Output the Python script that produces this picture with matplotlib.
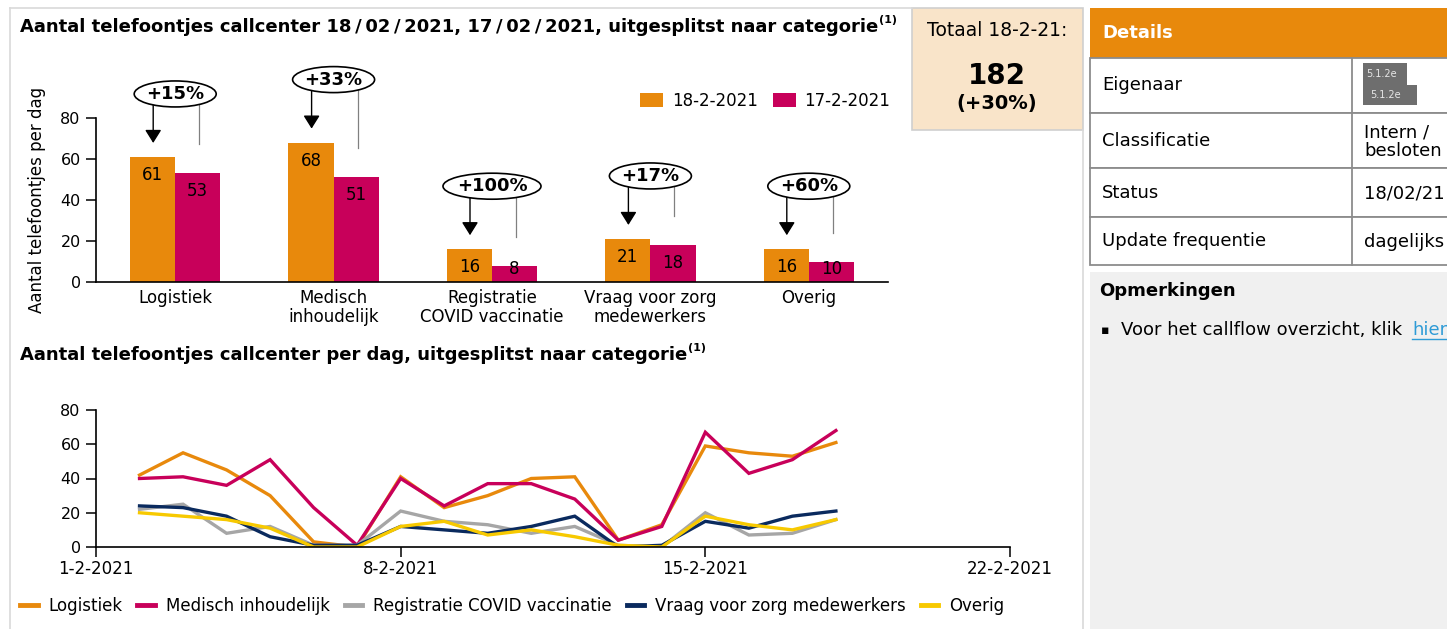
import matplotlib
matplotlib.use("Agg")
import matplotlib.pyplot as plt
from matplotlib.patches import Ellipse, Rectangle
from matplotlib.lines import Line2D
import numpy as np

plt.rcParams["font.family"] = ["DejaVu Sans"]

# ── data ────────────────────────────────────────────────────────────────────
categories = ["Logistiek", "Medisch\ninhoudelijk", "Registratie\nCOVID vaccinatie",
              "Vraag voor zorg\nmedewerkers", "Overig"]
today_label = "18-2-2021"
yesterday_label = "17-2-2021"
calls_today = [61, 68, 16, 21, 16]
calls_yesterday = [53, 51, 8, 18, 10]

days = np.arange("2021-02-02", "2021-02-19", dtype="datetime64[D]")
series_names = ["Logistiek", "Medisch inhoudelijk", "Registratie COVID vaccinatie",
                "Vraag voor zorg medewerkers", "Overig"]
logistiek = [42, 55, 45, 30, 3, 0, 41, 23, 30, 40, 41, 4, 13, 59, 55, 53, 61]
medisch = [40, 41, 36, 51, 23, 1, 40, 24, 37, 37, 28, 4, 12, 67, 43, 51, 68]
registratie = [22, 25, 8, 12, 1, 1, 21, 15, 13, 8, 12, 1, 0, 20, 7, 8, 16]
vraag = [24, 23, 18, 6, 1, 1, 12, 10, 8, 12, 18, 0, 1, 15, 11, 18, 21]
overig = [20, 18, 16, 11, 0, 0, 12, 15, 7, 10, 6, 1, 0, 18, 13, 10, 16]
date_ticks = np.array(["2021-02-01", "2021-02-08", "2021-02-15", "2021-02-22"],
                      dtype="datetime64[D]")

details_rows = ["Eigenaar", "Classificatie", "Status", "Update frequentie"]
details_vals = ["", "Intern /\nbesloten", "18/02/21", "dagelijks"]

ORANGE = "#E8890C"
MAGENTA = "#C8005A"
GRAY = "#A6A6A6"
NAVY = "#0A2A5E"
YELLOW = "#F7C900"
line_colors = [ORANGE, MAGENTA, GRAY, NAVY, YELLOW]

FS = 12        # chart text
FS_PANEL = 13  # right-hand panel text

W, H = 1447, 629
fig = plt.figure(figsize=(W / 100, H / 100), dpi=100)


def px_axes(x0, y0, x1, y1, **kw):
    return fig.add_axes([x0 / W, 1 - y1 / H, (x1 - x0) / W, (y1 - y0) / H], **kw)


# ── background / panels ─────────────────────────────────────────────────────
bg = px_axes(0, 0, W, H)
bg.set_xlim(0, W)
bg.set_ylim(H, 0)
bg.axis("off")
bg.plot([10, 912], [8, 8], color="#D9D9D9", lw=1.2)
bg.plot([10, 10], [8, H], color="#D9D9D9", lw=1.2)
bg.plot([1083, 1083], [130, H], color="#D9D9D9", lw=1.2)

# Totaal box
bg.add_patch(Rectangle((912, 8), 171, 122, fc="#F9E4C9", ec="#CFCFCF", lw=1.2))
tot = sum(calls_today)
tot_prev = sum(calls_yesterday)
bg.text(997, 30, "Totaal 18-2-21:", fontsize=13.5, ha="center", va="center")
bg.text(997, 76, f"{tot}", fontsize=20, fontweight="bold", ha="center", va="center")
bg.text(997, 103, f"(+{(tot - tot_prev) / tot_prev * 100:.0f}%)", fontsize=14,
        fontweight="bold", ha="center", va="center")

# Details table
bg.add_patch(Rectangle((1090, 8), 360, 50, fc=ORANGE, ec="none"))
bg.text(1102, 33, "Details", fontsize=FS_PANEL, fontweight="bold", color="white", va="center")
row_edges = [58, 113, 168, 217, 265]
for i, (lab, val) in enumerate(zip(details_rows, details_vals)):
    y0, y1 = row_edges[i], row_edges[i + 1]
    bg.add_patch(Rectangle((1090, y0), 360, y1 - y0, fc="white", ec="#8C8C8C", lw=1.3))
    bg.text(1102, (y0 + y1) / 2, lab, fontsize=FS_PANEL, va="center")
    bg.text(1364, (y0 + y1) / 2 + 1, val, fontsize=FS_PANEL, va="center", linespacing=1.0)
bg.plot([1352, 1352], [58, 265], color="#8C8C8C", lw=1.3)
# redacted owner boxes
bg.add_patch(Rectangle((1363, 63), 44, 22, fc="#6E6E6E", ec="none"))
bg.add_patch(Rectangle((1363, 85), 54, 20, fc="#6E6E6E", ec="none"))
bg.text(1366, 74, "5.1.2e", fontsize=7, color="#E6E6E6", va="center")
bg.text(1370, 95, "5.1.2e", fontsize=7, color="#E6E6E6", va="center")

# Opmerkingen
bg.add_patch(Rectangle((1090, 272), 360, H - 272, fc="#F0F0F0", ec="none"))
bg.text(1099, 291, "Opmerkingen", fontsize=FS_PANEL, fontweight="bold", va="center")
bg.text(1101, 330, "\u25aa", fontsize=9, va="center")
t_rem = bg.text(1121, 330, "Voor het callflow overzicht, klik ", fontsize=FS_PANEL, va="center")
renderer = fig.canvas.get_renderer()
bb = t_rem.get_window_extent(renderer=renderer)
bg.text(bb.x1 + 4, 330, "hier", fontsize=FS_PANEL, va="center", color="#2E9BD6")
bg.plot([bb.x1 + 4, bb.x1 + 54], [339, 339], color="#2E9BD6", lw=1)


# titles with superscript
def title_with_sup(x, y, text):
    t = bg.text(x, y, text, fontsize=13, fontweight="bold", va="center")
    e = t.get_window_extent(renderer=renderer)
    bg.text(e.x1 + 1, y - 7, "(1)", fontsize=8, fontweight="bold", va="center")


title_with_sup(20, 27, "Aantal telefoontjes callcenter 18\u2009/\u200902\u2009/\u20092021, "
                       "17\u2009/\u200902\u2009/\u20092021, uitgesplitst naar categorie")
title_with_sup(20, 355, "Aantal telefoontjes callcenter per dag, uitgesplitst naar categorie")

# ── bar chart ───────────────────────────────────────────────────────────────
ax = px_axes(96, 118, 888, 282)
x = np.arange(len(categories))
bw = 0.285
b1 = ax.bar(x - bw / 2, calls_today, bw, color=ORANGE, label=today_label)
b2 = ax.bar(x + bw / 2, calls_yesterday, bw, color=MAGENTA, label=yesterday_label)
ax.set_xlim(-0.5, 4.5)
ax.set_ylim(0, 80)
ax.set_yticks([0, 20, 40, 60, 80])
ax.set_xticks(x)
ax.set_xticklabels(categories, fontsize=FS, linespacing=1.05)
ax.tick_params(axis="x", length=0, pad=5)
ax.tick_params(axis="y", length=7, width=1.1, labelsize=11.5, pad=4)
for s in ["top", "right"]:
    ax.spines[s].set_visible(False)
for s in ["left", "bottom"]:
    ax.spines[s].set_linewidth(1.2)
ax.set_ylabel("Aantal telefoontjes per dag", fontsize=FS, labelpad=10)

ppu = 164 / 80          # pixels per data unit (y)
ppx = 792 / 5           # pixels per category
for i, (a, b) in enumerate(zip(calls_today, calls_yesterday)):
    ax.text(i - bw / 2, max(a - 18 / ppu, 6.3), f"{a}", ha="center", va="center", fontsize=FS)
    ax.text(i + bw / 2, max(b - 18 / ppu, 6.3), f"{b}", ha="center", va="center", fontsize=FS)
    pct = f"+{(a - b) / b * 100:.0f}%"
    yc = max(a, b) + 63 / ppu
    ew = (18 + 16 * len(pct)) / ppx
    eh = 26 / ppu
    ax.add_patch(Ellipse((i, yc), ew, eh, fc="white", ec="black", lw=1.2, clip_on=False, zorder=5))
    ax.text(i, yc, pct, ha="center", va="center", fontsize=13, fontweight="bold", zorder=6)
    # arrow to today's bar
    xa = i - 22 / ppx
    ya = yc - eh / 2 * np.sqrt(1 - (xa - i) ** 2 / (ew / 2) ** 2)
    ax.annotate("", xy=(xa, a + 14 / ppu), xytext=(xa, ya),
                arrowprops=dict(arrowstyle="-|>,head_length=0.8,head_width=0.5",
                                mutation_scale=10, color="black", lw=1, shrinkA=0, shrinkB=0),
                annotation_clip=False)
    # thin line to yesterday's bar
    xb = i + 24 / ppx
    yb = yc - eh / 2 * np.sqrt(1 - (xb - i) ** 2 / (ew / 2) ** 2)
    ax.plot([xb, xb], [yb, b + 29 / ppu], color="#808080", lw=0.9, clip_on=False)

ax.legend(handles=[b1, b2], loc="center left", bbox_to_anchor=(640 / W, 1 - 101 / H),
          bbox_transform=fig.transFigure, ncol=2, frameon=False, fontsize=FS,
          handlelength=1.4, handleheight=0.9, handletextpad=0.5, columnspacing=0.9,
          borderpad=0, borderaxespad=0)

# ── line chart ──────────────────────────────────────────────────────────────
lx = px_axes(96, 410, 1010, 547)
series = [logistiek, medisch, registratie, vraag, overig]
for name, vals, col in zip(series_names, series, line_colors):
    lx.plot(days, vals, color=col, lw=2.4, label=name, solid_joinstyle="miter")
lx.set_xlim(date_ticks[0], date_ticks[-1])
lx.set_ylim(0, 80)
lx.set_yticks([0, 20, 40, 60, 80])
lx.set_xticks(date_ticks)
lx.set_xticklabels([f"{d.astype(object).day}-{d.astype(object).month}-{d.astype(object).year}"
                    for d in date_ticks])
lx.tick_params(axis="x", length=7, width=1.1, labelsize=FS, pad=2)
lx.tick_params(axis="y", length=7, width=1.1, labelsize=11.5, pad=4)
for s in ["top", "right"]:
    lx.spines[s].set_visible(False)
for s in ["left", "bottom"]:
    lx.spines[s].set_linewidth(1.2)

handles = [Line2D([], [], color=c, lw=3.5) for c in line_colors]
fig.legend(handles, series_names, loc="center left", bbox_to_anchor=(20 / W, 1 - 606 / H),
           ncol=5, frameon=False, fontsize=FS, handlelength=1.05, handletextpad=0.65,
           columnspacing=0.9, borderpad=0, borderaxespad=0)

fig.savefig("out.png", dpi=100)
